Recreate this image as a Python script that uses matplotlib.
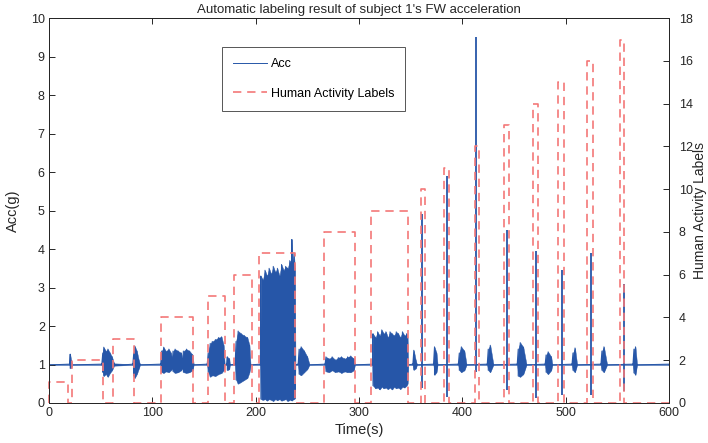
import matplotlib
matplotlib.use("Agg")
import matplotlib.pyplot as plt
import numpy as np

plt.rcParams["font.family"] = ["Liberation Sans", "DejaVu Sans"]

# activity labels: start time, end time, level
lab_start = [0, 22, 62, 108, 154, 179, 203, 266, 312, 360, 382, 412, 440, 468, 493, 521, 553]
lab_end = [18, 52, 82, 139, 170, 196, 238, 296, 347, 364, 387, 416, 445, 473, 498, 526, 556]
lab_level = [1, 2, 3, 4, 5, 6, 7, 8, 9, 10, 11, 12, 13, 14, 15, 16, 17]

# acceleration envelope (time, upper, lower)
acc_t = [0, 20, 20.5, 21.5, 22.5, 51, 52, 53, 55, 57, 59, 61, 63, 81, 82, 83, 85, 87, 88,
         108, 109, 111, 113, 116, 118, 119, 120, 122, 125, 128, 129, 130, 133, 136, 139, 140,
         153, 154, 156, 158, 161, 164, 167, 169, 170, 172, 172.5, 174.5, 175,
         180, 181, 183, 186, 189, 192, 194, 195,
         204.5, 205, 207, 209, 211, 213, 215, 217, 219, 221, 223, 225, 227, 229, 231, 233,
         234.5, 235, 235.5, 237, 238, 238.5,
         241, 242, 244, 247, 250, 252,
         267, 268, 271, 274, 277, 280, 283, 286, 289, 292, 295, 296,
         313, 313.5, 316, 318, 320, 322, 324, 326, 328, 330, 332, 334, 336, 338, 340, 342,
         344, 346, 347, 347.5,
         352, 353, 355, 356, 372, 373, 375, 376, 396, 397, 399, 402, 404,
         424, 425, 427, 430, 453, 454, 456, 459, 462, 480, 481, 483, 486, 487,
         506, 507, 509, 511, 534, 535, 537, 540, 565, 566, 567.5, 569, 600]
acc_hi = [1.01, 1.01, 1.27, 1.1, 1.01, 1.01, 1.3, 1.45, 1.35, 1.4, 1.3, 1.2, 1.03, 1.01, 1.3, 1.48, 1.35, 1.1, 1.01,
          1.01, 1.35, 1.45, 1.35, 1.4, 1.3, 1.15, 1.35, 1.4, 1.35, 1.3, 1.15, 1.35, 1.4, 1.35, 1.25, 1.01,
          1.01, 1.3, 1.55, 1.6, 1.65, 1.7, 1.72, 1.5, 1.01, 1.01, 1.2, 1.15, 1.01,
          1.01, 1.6, 1.87, 1.8, 1.75, 1.7, 1.5, 1.01,
          1.01, 3.3, 3.2, 3.45, 3.3, 3.5, 3.35, 3.55, 3.4, 3.5, 3.3, 3.6, 3.45, 3.55, 3.5, 3.7,
          3.6, 4.25, 3.65, 3.9, 3.5, 1.01,
          1.01, 1.4, 1.46, 1.35, 1.2, 1.01,
          1.01, 1.2, 1.15, 1.2, 1.12, 1.18, 1.2, 1.15, 1.2, 1.22, 1.15, 1.01,
          1.01, 1.8, 1.7, 1.85, 1.75, 1.9, 1.8, 1.85, 1.7, 1.85, 1.8, 1.75, 1.85, 1.8, 1.7, 1.85,
          1.75, 1.8, 1.7, 1.01,
          1.01, 1.37, 1.1, 1.01, 1.01, 1.46, 1.3, 1.01, 1.01, 1.3, 1.46, 1.35, 1.01,
          1.01, 1.4, 1.5, 1.01, 1.01, 1.4, 1.57, 1.45, 1.01, 1.01, 1.25, 1.33, 1.2, 1.01,
          1.01, 1.3, 1.43, 1.01, 1.01, 1.35, 1.46, 1.01, 1.01, 1.4, 1.46, 1.01, 1.01]
acc_lo = [0.99, 0.99, 0.9, 0.92, 0.99, 0.99, 0.8, 0.7, 0.75, 0.68, 0.78, 0.85, 0.97, 0.99, 0.7, 0.65, 0.75, 0.9, 0.99,
          0.99, 0.8, 0.78, 0.82, 0.8, 0.85, 0.9, 0.82, 0.78, 0.8, 0.85, 0.9, 0.8, 0.78, 0.8, 0.85, 0.99,
          0.99, 0.8, 0.68, 0.72, 0.7, 0.75, 0.78, 0.85, 0.99, 0.99, 0.85, 0.88, 0.99,
          0.99, 0.6, 0.5, 0.55, 0.6, 0.65, 0.8, 0.99,
          0.99, 0.1, 0.08, 0.1, 0.06, 0.1, 0.08, 0.05, 0.1, 0.07, 0.1, 0.06, 0.08, 0.1, 0.05, 0.08,
          0.1, 0.06, 0.08, 0.1, 0.12, 0.99,
          0.99, 0.75, 0.72, 0.8, 0.88, 0.99,
          0.99, 0.82, 0.8, 0.85, 0.8, 0.82, 0.78, 0.82, 0.8, 0.8, 0.85, 0.99,
          0.99, 0.45, 0.38, 0.4, 0.35, 0.42, 0.38, 0.4, 0.36, 0.4, 0.35, 0.42, 0.38, 0.4, 0.36, 0.42,
          0.4, 0.45, 0.5, 0.99,
          0.99, 0.86, 0.9, 0.99, 0.99, 0.73, 0.8, 0.99, 0.99, 0.85, 0.8, 0.85, 0.99,
          0.99, 0.85, 0.8, 0.99, 0.99, 0.7, 0.68, 0.75, 0.99, 0.99, 0.8, 0.75, 0.85, 0.99,
          0.99, 0.85, 0.8, 0.99, 0.99, 0.85, 0.8, 0.99, 0.99, 0.78, 0.73, 0.99, 0.99]

# narrow spikes at the short activities
spike_t = [361, 385, 413, 443, 471, 496, 524, 556]
spike_hi = [4.9, 5.9, 9.5, 4.5, 3.95, 3.45, 3.9, 3.1]
spike_lo = [0.39, 0.16, 0.8, 0.34, 0.13, 0.2, 0.2, 0.3]

BLUE = "#2656a8"
RED = "#f37878"
AXC = "#262626"

fig = plt.figure(figsize=(7.08, 4.43), dpi=100)
ax = fig.add_axes([0.0692, 0.0903, 0.8758, 0.8687])
ax2 = ax.twinx()

hi = np.array(acc_hi)
lo = np.array(acc_lo)
ax.fill_between(acc_t, lo, hi, color=BLUE, linewidth=0.3, edgecolor=BLUE)
# the Acc trace runs up and down through each envelope sample
zz_t = np.repeat(acc_t, 2)
zz_v = np.column_stack([hi, lo]).ravel()
acc_line, = ax.plot(zz_t, zz_v, color=BLUE, linewidth=0.7, label="Acc")
ax.vlines(spike_t, spike_lo, spike_hi, color=BLUE, linewidth=1.3)

# build the step outline of the label series
lx, ly = [], []
for s, e, lv in zip(lab_start, lab_end, lab_level):
    lx += [s, s, e, e]
    ly += [0, lv, lv, 0]
lx.append(600)
ly.append(0)
lab_line, = ax2.plot(lx, ly, color=RED, linewidth=1.2, linestyle=(0, (5, 3.5)),
                     clip_on=False, label="Human Activity Labels")

ax.set_xlim(0, 600)
ax.set_ylim(0, 10)
ax2.set_ylim(0, 18)
ax.set_xticks(range(0, 601, 100))
ax.set_yticks(range(0, 11))
ax2.set_yticks(range(0, 19, 2))

for a in (ax, ax2):
    a.tick_params(direction="in", length=4, width=0.7, colors=AXC, labelsize=9, pad=3)
    for sp in a.spines.values():
        sp.set_color(AXC)
        sp.set_linewidth(0.7)
ax.tick_params(top=True)
ax2.tick_params(pad=7)

ax.set_xlabel("Time(s)", fontsize=10.5, color=AXC, labelpad=3)
ax.set_ylabel("Acc(g)", fontsize=10.5, color=AXC, labelpad=8)
ax2.set_ylabel("Human Activity Labels", fontsize=10, color=AXC)
ax2.yaxis.set_label_coords(1.038, 0.5)
ax.set_title("Automatic labeling result of subject 1's FW acceleration", fontsize=9.5,
             color=AXC, pad=4)

leg = ax2.legend([acc_line, lab_line], ["Acc", "Human Activity Labels"],
                 loc="upper left", bbox_to_anchor=(0.279, 0.925), borderaxespad=0,
                 fontsize=9, fancybox=False, edgecolor="#555555", framealpha=1,
                 handlelength=2.7, labelspacing=1.4, borderpad=0.9, handletextpad=0.3)
leg.get_frame().set_linewidth(0.7)

fig.savefig("out.png", dpi=100)
